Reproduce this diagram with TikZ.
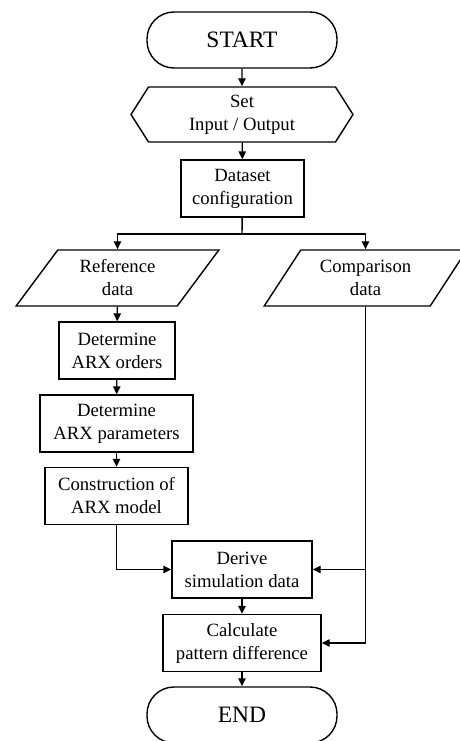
\documentclass[tikz,border=0pt]{standalone}
\usepackage{fontspec}
\setmainfont{Liberation Serif}
\usetikzlibrary{arrows.meta, calc, shapes.geometric, shapes.symbols}

\begin{document}
\begin{tikzpicture}[x=1pt, y=-1pt, line width=1.4pt, >={Triangle[length=8pt,width=7.5pt]},
        font=\fontsize{18.7}{23}\selectfont,
        term/.style={draw, rounded corners=27pt, minimum width=190pt, minimum height=56pt, font=\fontsize{23.5}{28}\selectfont},
        proc/.style={draw, rectangle, align=center, minimum height=57pt, inner sep=0pt},
        iodata/.style={draw, trapezium, trapezium left angle=54, trapezium right angle=126, trapezium stretches=true,
            minimum width=203pt, minimum height=56pt, align=center, inner sep=0pt},
        prep/.style={draw, signal, signal to=west and east, signal pointer angle=115,
            minimum width=222pt, minimum height=55pt, align=center, inner sep=0pt}]

        % picture frame (460 x 741)
        \useasboundingbox (0,0) rectangle (460,741);

        % main column
        \node[term] (start) at (242,40) {START};
        \node[prep] (setio) at (242,114.5) {Set\\Input / Output};
        \node[proc, minimum width=123pt] (dataset) at (242.5,188.5) {Dataset\\configuration};

        % two data branches
        \node[iodata] (refdata) at (117.5,278) {Reference\\data};
        \node[iodata] (compdata) at (365.5,278) {Comparison\\data};

        % ARX model steps
        \node[proc, minimum width=116pt] (orders) at (117,350.5) {Determine\\ARX orders};
        \node[proc, minimum width=153pt] (params) at (116.5,423.5) {Determine\\ARX parameters};
        \node[proc, minimum width=143pt] (construct) at (116.5,496) {Construction of\\ARX model};

        % simulation and comparison
        \node[proc, minimum width=140pt] (derive) at (242,569.5) {Derive\\simulation data};
        \node[proc, minimum width=158pt] (calc) at (242,643) {Calculate\\pattern difference};
        \node[term] (end) at (242,715) {END};

        % connectors
        \draw[->] (start) -- (setio);
        \draw[->] (setio) -- (dataset);
        \coordinate (split) at (242,234);
        \draw (dataset) -- (split);
        \draw[->] (split) -| (refdata.north);
        \draw[->] (split) -| (compdata.north);
        \draw[->] (refdata) -- (orders);
        \draw[->] (orders) -- (params);
        \draw[->] (params) -- (construct);
        \draw[->] (construct.south) |- (derive.west);
        \coordinate (tap) at (compdata.south |- derive.east);
        \draw[->] (compdata.south) |- (calc.east);
        \draw[->] (tap) -- (derive.east);
        \draw[->] (derive) -- (calc);
        \draw[->] (calc) -- (end);

\end{tikzpicture}
\end{document}
